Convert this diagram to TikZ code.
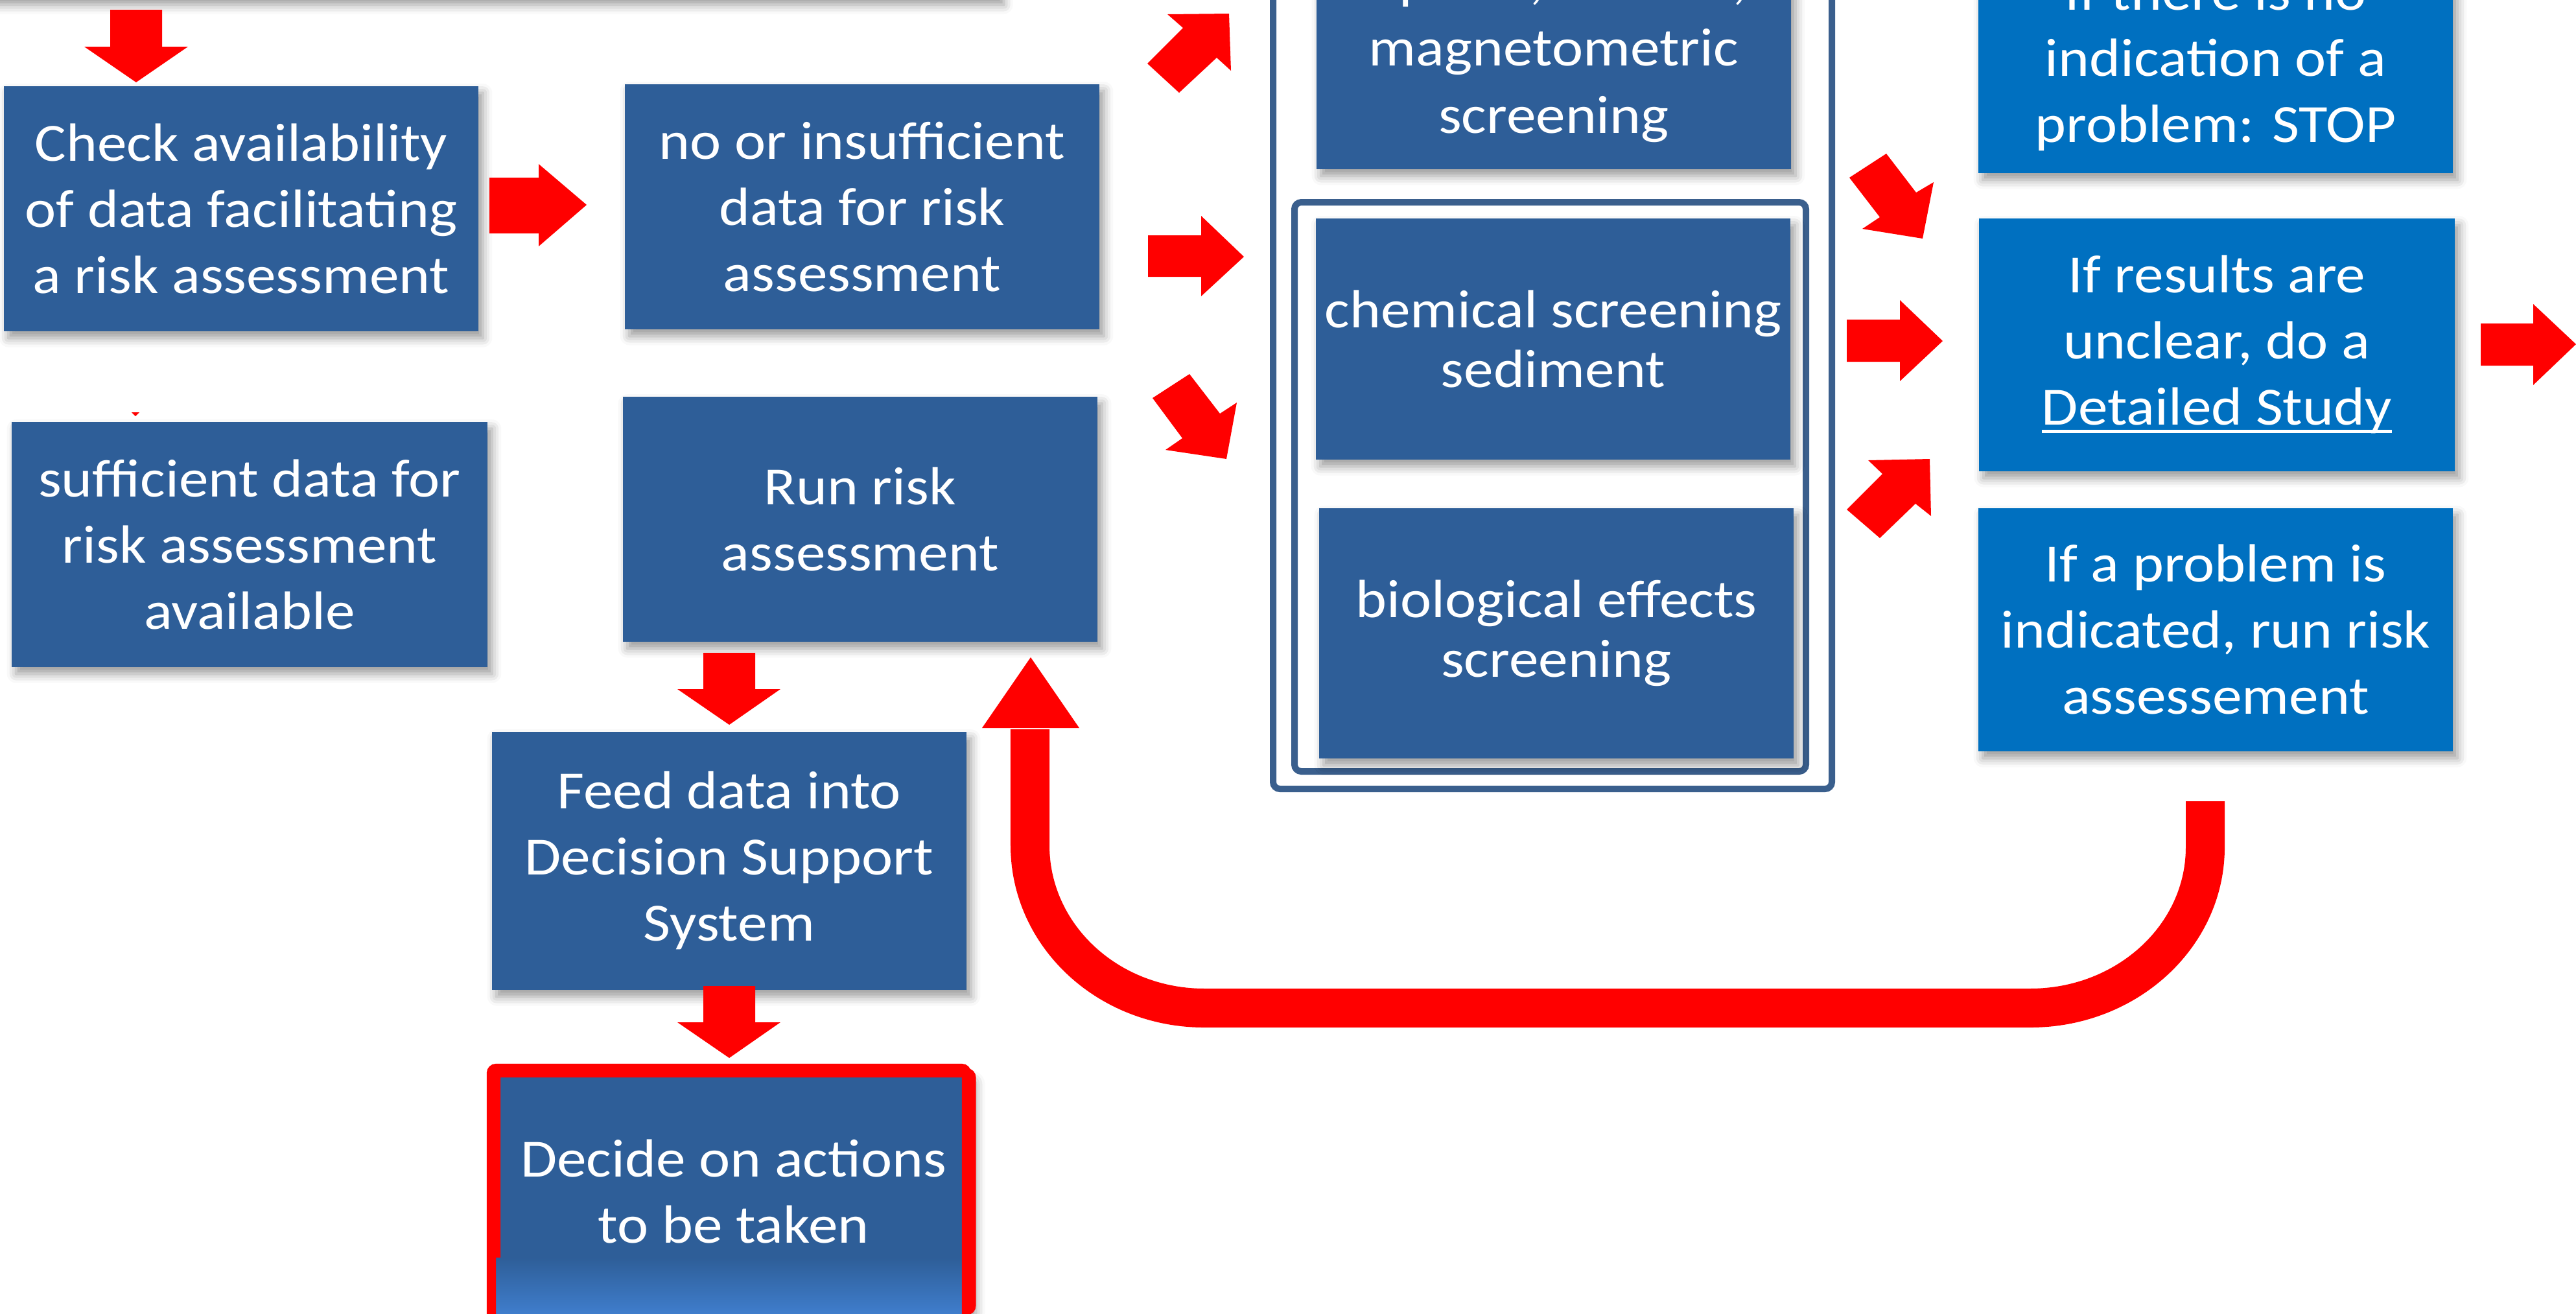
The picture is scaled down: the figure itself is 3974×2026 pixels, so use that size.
\documentclass[tikz,border=0pt]{standalone}
\usepackage{fontspec}
\setmainfont{Carlito}[FakeStretch=1.1]
\usetikzlibrary{shadows.blur}
\definecolor{lblue}{HTML}{2E5E98}
\definecolor{rblue}{HTML}{0070C0}
\definecolor{framecol}{HTML}{3A5F8D}
\definecolor{arrred}{HTML}{FF0000}
\definecolor{declight}{HTML}{4282D4}
\newcommand\myul[1]{\setbox0\hbox{#1}\rlap{\rule[-0.14em]{\wd0}{0.06em}}\box0}
\tikzset{
  boxbase/.style={rectangle, inner sep=0pt, text=white, align=center,
    font=\fontsize{23.6}{29}\selectfont, anchor=north west,
    minimum width=7.32cm, minimum height=3.78cm,
    blur shadow={shadow xshift=2pt, shadow yshift=-3pt, shadow blur radius=4pt, shadow opacity=40}},
  lbox/.style={boxbase, fill=lblue},
  rbox/.style={boxbase, fill=rblue},
  mbox/.style={lbox, font=\fontsize{23.6}{26.1}\selectfont},
  blockarrow/.style={fill=arrred, draw=none},
  framebox/.style={draw=framecol, line width=2.85pt, rounded corners=3pt},
  redframe/.style={draw=arrred, line width=4pt, rounded corners=2pt},
}
\begin{document}
\begin{tikzpicture}[x=0.01cm,y=-0.01cm]
\useasboundingbox (0,0) rectangle (3974,2026);
\clip (0,0) rectangle (3974,2026);
% cut-off box at the top
\node[lbox, minimum width=15.6cm] (topbox) at (-20,-382) {};
% left column
\node[lbox] (check) at (5,132) {Check availability\\of data facilitating\\a risk assessment};
\node[lbox] (noins) at (963,129) {no or insufficient\\data for risk\\assessment};
\node[lbox, minimum width=7.34cm] (suff) at (17,650) {sufficient data for\\risk assessment\\available};
\node[lbox] (run) at (960,611) {Run risk\\assessment};
\node[lbox, minimum height=3.98cm] (feed) at (758,1128) {Feed data into\\Decision Support\\System};
\node[lbox, minimum width=7.33cm, minimum height=3.66cm, redframe]
  (decide) at (758,1648) {Decide on actions\\to be taken};
\shade[top color=lblue, bottom color=declight] (765,1940) rectangle (1484,2040);
\draw[redframe] (758,1648) rectangle (1491,2060);
% middle column
\draw[framebox] (1964,-60) rectangle (2826,1217);
\draw[framebox] (1997,312) rectangle (2786,1190);
\node[mbox, font=\fontsize{23.6}{29.5}\selectfont, minimum height=3.62cm] (mag) at (2030,-102) {Optical, seismic,\\magnetometric\\screening};
\node[mbox, minimum height=3.72cm] (chem) at (2029,336) {chemical screening\\sediment};
\node[mbox, minimum height=3.86cm] (bio) at (2034,783) {biological effects\\screening};
% right column
\node[rbox, minimum height=3.42cm] (stop) at (3051,-76) {If there is no\\indication of a\\problem: STOP};
\node[rbox, minimum width=7.34cm, minimum height=3.9cm] (ifres) at (3052,336) {If results are\\unclear, do a\\\myul{Detailed Study}};
\node[rbox, minimum height=3.75cm] (ifprob) at (3051,783) {If a problem is\\indicated, run risk\\assessement};
% block arrows
\fill[blockarrow] (170,15) -- (250,15) -- (250,72) -- (290,72) -- (210,127) -- (130,72) -- (170,72) -- cycle;
\fill[blockarrow] (203,636) -- (215,636) -- (209,642) -- cycle;
\fill[blockarrow] (755,274) -- (831,274) -- (831,253) -- (905,316) -- (831,380) -- (831,360) -- (755,360) -- cycle;
\fill[blockarrow] (1825,43) -- (1801,22) -- (1896,21) -- (1899,109) -- (1877,89) -- (1819,143) -- (1770,98) -- cycle;
\fill[blockarrow] (1771,363) -- (1853,363) -- (1853,333) -- (1919,396) -- (1853,457) -- (1853,427) -- (1771,427) -- cycle;
\fill[blockarrow] (1835,577) -- (1882,638) -- (1908,621) -- (1892,708) -- (1798,694) -- (1824,676) -- (1778,614) -- cycle;
\fill[blockarrow] (2910,237) -- (2956,297) -- (2983,281) -- (2966,368) -- (2873,353) -- (2900,335) -- (2853,274) -- cycle;
\fill[blockarrow] (2849,493) -- (2931,493) -- (2931,463) -- (2997,526) -- (2931,588) -- (2931,558) -- (2849,558) -- cycle;
\fill[blockarrow] (2904,731) -- (2882,710) -- (2977,708) -- (2979,796) -- (2955,777) -- (2900,830) -- (2849,786) -- cycle;
\fill[blockarrow] (3827,499) -- (3908,499) -- (3908,469) -- (3974,531) -- (3908,594) -- (3908,564) -- (3827,564) -- cycle;
\fill[blockarrow] (1085,1007) -- (1165,1007) -- (1165,1063) -- (1204,1063) -- (1125,1118) -- (1045,1063) -- (1085,1063) -- cycle;
\fill[blockarrow] (1085,1521) -- (1165,1521) -- (1165,1577) -- (1204,1577) -- (1125,1632) -- (1045,1577) -- (1085,1577) -- cycle;
% loop arrow back to Run risk assessment
\coordinate (loopstart) at (3402,1236);
\coordinate (loopend) at (1589,1125);
\draw[arrred, line width=0.6cm] (loopstart) -- (3402,1307)
  .. controls (3402,1444) and (3281,1555) .. (3132,1555) -- (1858,1555)
  .. controls (1709,1555) and (1589,1443) .. (1589,1304) -- (loopend);
\fill[blockarrow] (1515,1123) -- (1665,1123) -- (1590,1014) -- cycle;
\end{tikzpicture}
\end{document}
